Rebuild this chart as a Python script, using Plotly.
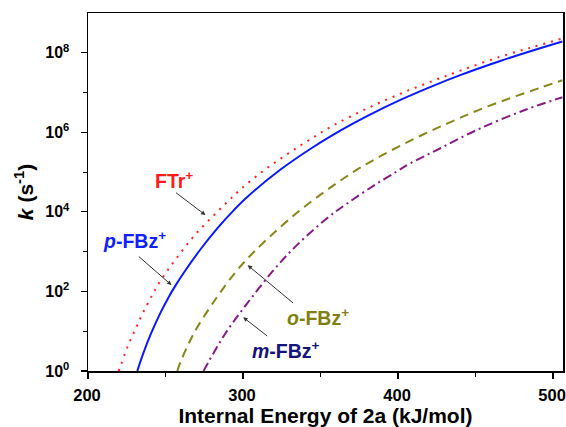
import plotly.graph_objects as go

# ---- data ----
ftr_energy = [219.8, 221.5, 225.4, 230.3, 235.4, 241.5, 244.7, 251.5, 259.7, 268.3, 278.0, 289.4,
              298.8, 313.0, 328.0, 343.5, 358.5, 380.0, 401.5, 423.0, 440.1, 465.9, 487.4, 506.0]
ftr_k = [1.0, 1.51, 3.98, 10.7, 28.8, 81.3, 138, 347, 933, 2.45e3, 6.17e3, 1.70e4,
         3.80e4, 1.07e5, 2.75e5, 6.76e5, 1.51e6, 3.98e6, 9.33e6, 2.0e7, 3.55e7, 7.94e7, 1.41e8, 2.29e8]

pfbz_energy = [231.8, 236.0, 240.4, 246.8, 252.2, 256.5, 261.9, 272.6, 283.4, 294.1, 302.7, 324.2,
               345.6, 365.0, 380.0, 401.5, 423.0, 440.1, 465.9, 487.4, 506.0]
pfbz_k = [1.0, 3.01, 8.30, 29.4, 74.0, 142, 300, 1.15e3, 3.84e3, 1.11e4, 2.37e4, 1.16e5,
          4.34e5, 1.24e6, 2.56e6, 6.55e6, 1.50e7, 2.74e7, 6.21e7, 1.16e8, 1.93e8]

ofbz_energy = [257.6, 259.7, 265.1, 270.5, 283.4, 296.3, 303.7, 308.0, 319.8, 337.0, 354.2, 371.4,
               388.6, 410.0, 431.6, 451.9, 472.4, 491.7, 506.0]
ofbz_k = [1.0, 1.70, 5.01, 12.6, 74.1, 347, 724, 1.07e3, 2.95e3, 1.12e4, 3.55e4, 1.02e5,
          2.51e5, 6.76e5, 1.66e6, 3.63e6, 7.24e6, 1.32e7, 2.04e7]

mfbz_energy = [274.5, 288.7, 302.7, 319.8, 334.9, 354.2, 367.1, 384.3, 399.4, 407.9, 427.3, 453.0,
               483.1, 506.0]
mfbz_k = [1.0, 8.91, 50.1, 347, 1.48e3, 6.92e3, 1.62e4, 4.57e4, 1.05e5, 1.66e5, 3.98e5, 1.26e6,
          3.80e6, 7.59e6]

x_tickvals = [200, 300, 400, 500]
x_ticktext = ["200", "300", "400", "500"]
y_tickvals = [1, 1e2, 1e4, 1e6, 1e8]
y_ticktext = ["10<sup>0</sup>", "10<sup>2</sup>", "10<sup>4</sup>", "10<sup>6</sup>", "10<sup>8</sup>"]

FONT = "Liberation Sans, Arial, sans-serif"

fig = go.Figure()
fig.add_trace(go.Scatter(x=ftr_energy, y=ftr_k, mode="lines", name="FTr+",
                         line=dict(color="#ff2020", width=2, dash="2px,6px", shape="spline", smoothing=1.0)))
fig.add_trace(go.Scatter(x=pfbz_energy, y=pfbz_k, mode="lines", name="p-FBz+",
                         line=dict(color="#0a1aff", width=2, shape="spline", smoothing=1.0)))
fig.add_trace(go.Scatter(x=ofbz_energy, y=ofbz_k, mode="lines", name="o-FBz+",
                         line=dict(color="#86861a", width=2, dash="9px,6px", shape="spline", smoothing=1.0)))
fig.add_trace(go.Scatter(x=mfbz_energy, y=mfbz_k, mode="lines", name="m-FBz+",
                         line=dict(color="#861a86", width=2, dash="9px,4px,2px,4px", shape="spline", smoothing=1.0)))

# labels
labels = [
    dict(text="FTr<sup>+</sup>", x=255.3, y=4.80, color="#ff1a1a"),
    dict(text="<i>p</i>-FBz<sup>+</sup>", x=230.1, y=3.29, color="#1020ff"),
    dict(text="<i>o</i>-FBz<sup>+</sup>", x=348.6, y=1.36, color="#808010"),
    dict(text="<i>m</i>-FBz<sup>+</sup>", x=328.0, y=0.53, color="#14147a"),
]
for lb in labels:
    fig.add_annotation(x=lb["x"], y=lb["y"], xref="x", yref="y", text=lb["text"], showarrow=False,
                       font=dict(family=FONT, size=19.5, color=lb["color"], weight="bold"))

# arrows (head, tail)
arrows = [
    ((275.8, 3.92), (255.8, 4.51)),
    ((253.9, 2.16), (231.8, 2.91)),
    ((303.0, 2.66), (333.2, 1.68)),
    ((300.1, 1.35), (316.6, 0.85)),
]
for (hx, hy), (tx, ty) in arrows:
    fig.add_annotation(x=hx, y=hy, ax=tx, ay=ty, xref="x", yref="y", axref="x", ayref="y",
                       text="", showarrow=True, arrowhead=2, arrowsize=0.9, arrowwidth=1,
                       arrowcolor="#333333")

fig.update_layout(
    width=566, height=427,
    margin=dict(l=88, r=3, t=13, b=56, autoexpand=False),
    paper_bgcolor="white", plot_bgcolor="white",
    showlegend=False,
    font=dict(family=FONT, color="black"),
)
fig.update_xaxes(
    range=[200, 506.4], tickvals=x_tickvals, ticktext=x_ticktext, automargin=False,
    ticks="outside", ticklen=6, tickwidth=1.2, tickcolor="black", ticklabelstandoff=3,
    ticklabelshift=-1,
    minor=dict(tickvals=[250, 350, 450], ticks="outside", ticklen=4, tickwidth=1.2, tickcolor="black"),
    showline=True, linecolor="black", linewidth=1.5, mirror=True, showgrid=False, zeroline=False,
    tickfont=dict(family=FONT, size=16.5, weight="bold"),
    title=dict(text="Internal Energy of 2a (kJ/mol)", font=dict(family=FONT, size=21, weight="bold"), standoff=9),
)
fig.update_yaxes(
    type="log", range=[0, 9], tickvals=y_tickvals, ticktext=y_ticktext, automargin=False,
    ticks="outside", ticklen=6, tickwidth=1.2, tickcolor="black", ticklabelstandoff=8,
    minor=dict(tickvals=[10, 1e3, 1e5, 1e7], ticks="outside", ticklen=4, tickwidth=1.2, tickcolor="black"),
    showline=True, linecolor="black", linewidth=1.5, mirror=True, showgrid=False, zeroline=False,
    tickfont=dict(family=FONT, size=16, weight="bold"),
    title=dict(text="<i>k</i> (s<sup>-1</sup>)", font=dict(family=FONT, size=21, weight="bold"), standoff=6),
)

fig.write_html("out.html", config={"displayModeBar": False, "staticPlot": True},
               post_script="document.body.style.margin='0';document.body.style.overflow='hidden';")
